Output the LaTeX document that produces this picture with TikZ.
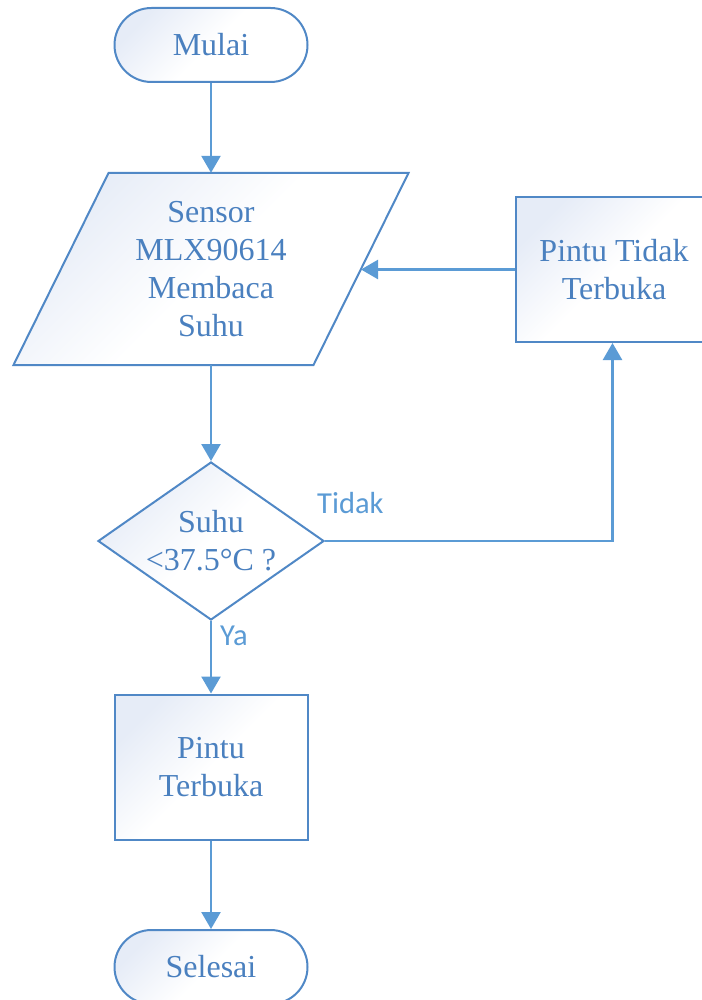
\documentclass[tikz,border=0pt]{standalone}
\usepackage{fontspec}
\setmainfont{Liberation Serif}
\newfontfamily\labelfont{Carlito}
\usetikzlibrary{arrows.meta,shapes.geometric,shapes.misc,calc}
\definecolor{flowline}{HTML}{5B9BD5}
\definecolor{flowedge}{HTML}{5088C6}
\definecolor{flowtext}{HTML}{4A80BF}
\definecolor{boxtint}{HTML}{E6ECF7}
\begin{document}
\begin{tikzpicture}[x=1pt,y=-1pt,
  shapefill/.style={top color=boxtint, bottom color=white, middle color=white, shading angle=45},
  box/.style={shapefill, draw=flowedge, line width=2pt, text=flowtext,
    font=\fontsize{32}{38}\selectfont, align=center, inner sep=0pt},
  terminal/.style={box, rounded rectangle, minimum width=193pt, minimum height=74pt},
  process/.style={box, rectangle, minimum height=145pt},
  decision/.style={box, diamond, aspect=1.43, minimum width=226pt, minimum height=158pt},
  iotext/.style={text=flowtext, font=\fontsize{32}{38}\selectfont, align=center,
    inner sep=0pt, minimum width=300pt, minimum height=192pt},
  flow/.style={draw=flowline, line width=2.5pt, -{Triangle[width=19pt,length=17pt]}},
  branch/.style={text=flowline, font=\labelfont\fontsize{30.5}{36}\selectfont, inner sep=0pt}
]
\useasboundingbox (0,0) rectangle (701,1000);

% start terminal
\node[terminal] (mulai) at (211,45) {Mulai};

% input/output parallelogram
\coordinate (sensorC) at (211,269);
\path[shapefill, draw=flowedge, line width=2pt]
  ($(sensorC)+(-102.5,-96)$) -- ($(sensorC)+(197.5,-96)$) --
  ($(sensorC)+(102.5,96)$) -- ($(sensorC)+(-197.5,96)$) -- cycle;
\node[iotext] (sensor) at (sensorC) {Sensor\\MLX90614\\Membaca\\Suhu};
\coordinate (sensorE) at ($(sensor)+(150,0)$);

% decision
\node[decision] (cek) at (211,541) {Suhu\\{<}37.5°C ?};

% processes
\node[process, minimum width=196pt] (tutup) at (614,269.5) {Pintu Tidak\\Terbuka};
\node[process, minimum width=193pt] (buka) at (211,767) {Pintu\\Terbuka};

% end terminal
\node[terminal] (selesai) at (211,967) {Selesai};

% branch labels
\node[branch, anchor=base west] (lblTidak) at (317,513) {Tidak};
\node[branch, anchor=base west] (lblYa) at (220,645) {Ya};

% connectors
\draw[flow] (mulai.south) -- (sensor.north);
\draw[flow] (sensor.south) -- (cek.north);
\draw[flow] (cek.south) -- (buka.north);
\draw[flow] (buka.south) -- (selesai.north);
\coordinate (tutupS) at ($(tutup.south)+(-1.5,0)$);
\draw[flow] (cek.east) -| (tutupS);
\draw[flow] (tutup.west) -- (tutup.west -| sensorE);
\end{tikzpicture}
\end{document}
